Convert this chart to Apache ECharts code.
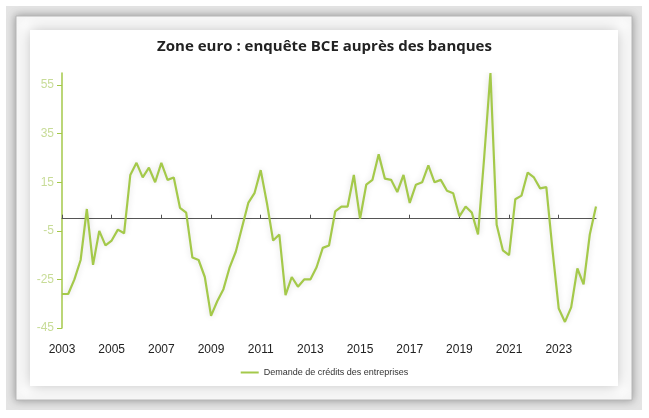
<!DOCTYPE html>
<html><head><meta charset="utf-8">
<script src="https://cdn.jsdelivr.net/npm/echarts@6/dist/echarts.min.js"></script>
<style>html,body{margin:0;padding:0;background:#fff}#c{width:649px;height:418px}</style>
</head><body><div id="c"></div>
<script>
const startYear = 2003;
const values = [-31,-31,-25,-17,4,-19,-5,-11,-9,-4.5,-6,18,23,17,21,15,23,16,17,4.5,2.5,-16,-17,-24,-40,-34,-29,-20,-13.5,-3.5,6.5,10.5,20,6.5,-9,-6.5,-31.5,-24,-28,-25,-25,-20,-12,-11,3,5,5,18,0,14,16,26.5,16.5,16,11,18,6.5,14,15,22,15,16,11.5,10.5,1,5,2.5,-6.5,25.5,60,-2.5,-13,-15,8,9.5,19,17,12.5,13,-13,-37,-42.5,-36.5,-20.5,-27,-6.5,5];
const categories = values.map((v,i)=> String(startYear + Math.floor(i/4)) + 'T' + (i%4+1));
const yTicks = [-45,-25,-5,15,35,55];
const seriesName = 'Demande de crédits des entreprises';
const title = 'Zone euro : enquête BCE auprès des banques';
const green = '#a4c94a';
const chart = echarts.init(document.getElementById('c'));
chart.setOption({
  animation:false,
  graphic:[
    {type:'rect',shape:{x:6,y:6,width:636,height:404},style:{fill:'#e4e4e4'},z:-10},
    {type:'rect',shape:{x:16,y:16,width:616,height:384},style:{fill:'#ffffff',stroke:'#b8b8b8',lineWidth:1,shadowBlur:8,shadowColor:'rgba(0,0,0,0.35)'},z:-9},
    {type:'rect',shape:{x:30,y:30,width:588,height:356},style:{fill:'#ffffff',shadowBlur:14,shadowColor:'rgba(0,0,0,0.25)'},z:-8}
  ],
  title:{text:title,left:'center',top:34,textStyle:{fontFamily:'Open Sans',fontWeight:'bold',fontSize:15,color:'#222'}},
  grid:{left:62,right:53,top:73,bottom:90},
  legend:{bottom:36,left:'center',itemWidth:18,itemHeight:2,icon:'rect',textStyle:{fontSize:9,color:'#333',fontFamily:'Liberation Sans'},data:[seriesName]},
  xAxis:[
    {type:'category',data:categories,boundaryGap:false,position:'bottom',
     axisLine:{show:false,onZero:false},axisTick:{show:false},
     axisLabel:{interval:7,color:'#222',fontSize:12,fontFamily:'Liberation Sans',margin:16,formatter:v=>v.slice(0,4)}},
    {type:'category',data:categories,boundaryGap:false,
     axisLine:{onZero:true,lineStyle:{color:'#555',width:1}},
     axisTick:{interval:7,inside:false,length:4,lineStyle:{color:'#555'}},axisLabel:{show:false}}
  ],
  yAxis:{type:'value',min:-45,max:60,interval:20,
    axisLine:{show:true,onZero:false,lineStyle:{color:green,width:1.5}},
    axisTick:{show:true,length:5,lineStyle:{color:green}},
    splitLine:{show:false},
    axisLabel:{showMaxLabel:false,color:'#c8dc98',fontSize:12,fontFamily:'Liberation Sans',
      formatter:v=> yTicks.includes(v)?String(v):''}},
  series:[{name:seriesName,type:'line',data:values,xAxisIndex:0,symbol:'none',
    lineStyle:{color:green,width:2.2,shadowBlur:6,shadowColor:'rgba(0,0,0,0.15)'},itemStyle:{color:green}}]
});
</script></body></html>
